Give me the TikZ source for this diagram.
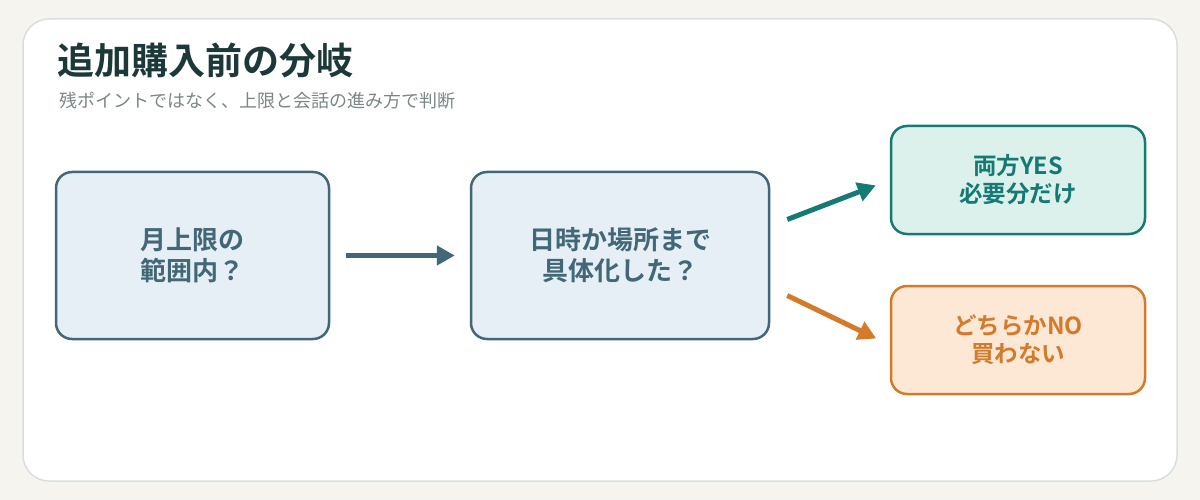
\documentclass[tikz,border=0pt]{standalone}
\usepackage{fontspec}
\setmainfont{Noto Sans CJK JP}
\newfontfamily\jpbold{Noto Sans CJK JP Bold}
\usetikzlibrary{arrows.meta,positioning,calc}
\definecolor{pagebg}{HTML}{F5F4EE}
\definecolor{cardline}{HTML}{D9DFDD}
\definecolor{titlec}{HTML}{1D3838}
\definecolor{subc}{HTML}{7B8686}
\definecolor{qfill}{HTML}{E6EFF5}
\definecolor{qline}{HTML}{426776}
\definecolor{yfill}{HTML}{DCF1EC}
\definecolor{yline}{HTML}{157A74}
\definecolor{nfill}{HTML}{FDE8D6}
\definecolor{nline}{HTML}{D37A2B}
\tikzset{
  qbox/.style  ={draw=qline,fill=qfill,line width=2.5pt,rounded corners=16pt,
                 align=center,text=qline,font=\jpbold\fontsize{26}{31}\selectfont},
  ybox/.style  ={draw=yline,fill=yfill,line width=2.5pt,rounded corners=16pt,
                 align=center,text=yline,font=\jpbold\fontsize{23.5}{28}\selectfont,
                 minimum width=254pt,minimum height=108pt},
  nbox/.style  ={ybox,draw=nline,fill=nfill,text=nline},
  fat/.style   ={line width=5pt,-{Triangle[length=18pt,width=19pt]}},
}
\begin{document}
\begin{tikzpicture}[x=1pt,y=-1pt]
  \useasboundingbox[fill=pagebg] (0,0) rectangle (1200,500);
  \draw[cardline,fill=white,line width=1.5pt,rounded corners=26pt] (23,19) rectangle (1177,481);
  \node[anchor=west,inner sep=0,text=titlec,font=\jpbold\fontsize{37}{42}\selectfont] (title) at (57,60) {追加購入前の分岐};
  \node[anchor=west,inner sep=0,text=subc,font=\fontsize{18}{21}\selectfont] (sub) at (59,101) {残ポイントではなく、上限と会話の進み方で判断};
  % questions
  \node[qbox,minimum width=273pt,minimum height=167pt] (q1) at (192.5,255.5) {月上限の\\範囲内？};
  \node[qbox,minimum width=298pt,minimum height=167pt] (q2) at (620,255.5) {日時か場所まで\\具体化した？};
  % outcomes
  \node[ybox] (yes) at (1018,180) {両方YES\\必要分だけ};
  \node[nbox] (no)  at (1018,340) {どちらかNO\\買わない};
  \coordinate (yesA) at ([xshift=17pt,yshift=36pt]q2.east);
  \coordinate (noA)  at ([xshift=17pt,yshift=-40pt]q2.east);
  \draw[fat,qline,shorten <=16pt,shorten >=15pt] (q1.east) -- (q2.west);
  \draw[fat,yline,shorten >=15pt] (yesA) -- (yes.west);
  \draw[fat,nline,shorten >=15pt] (noA) -- ([yshift=-5pt]no.west);
\end{tikzpicture}
\end{document}
